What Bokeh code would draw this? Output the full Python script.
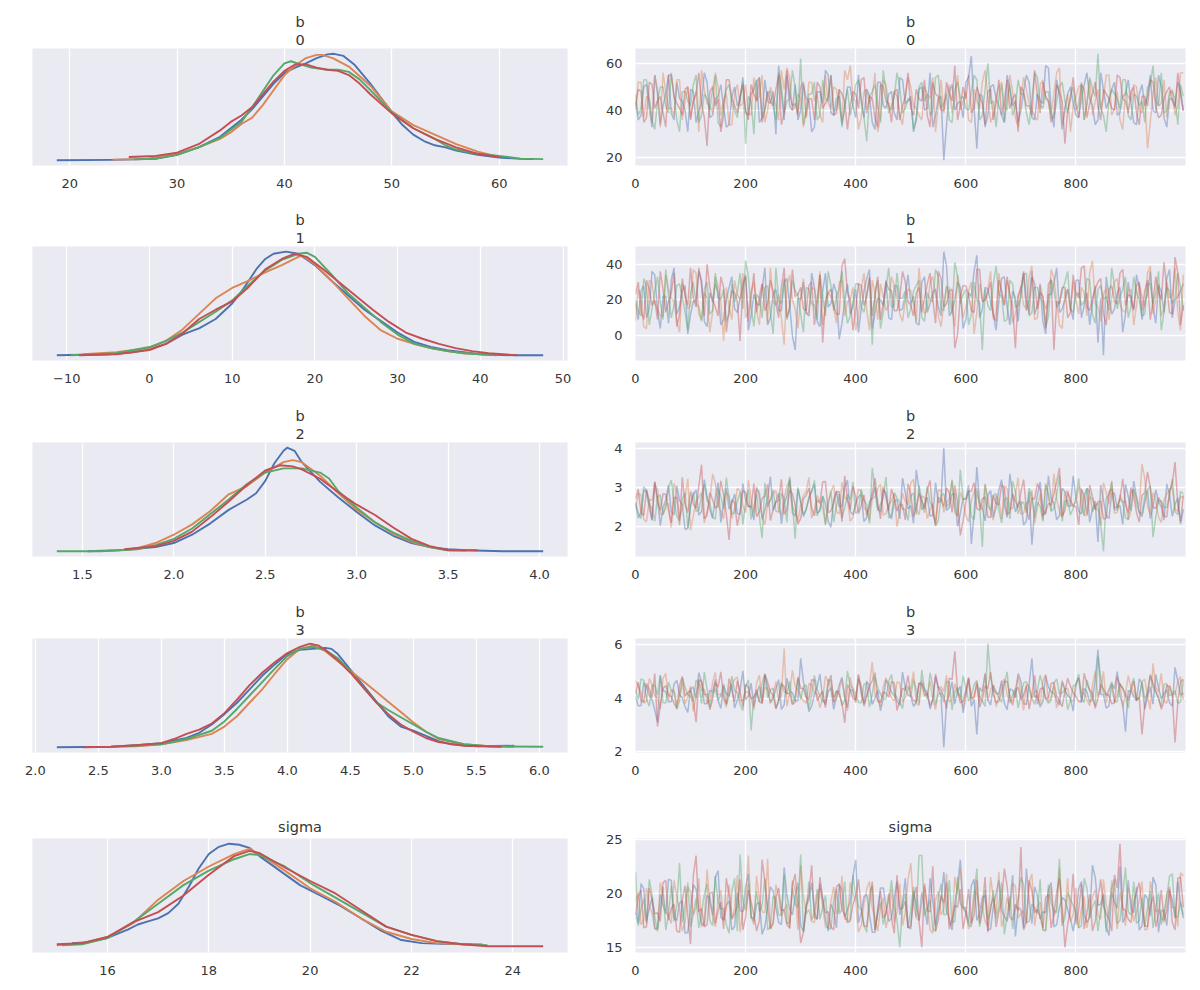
import numpy as np
from bokeh.plotting import figure
from bokeh.layouts import column, row
from bokeh.models import Range1d, FixedTicker, Title
from bokeh.embed import file_html
from bokeh.resources import INLINE

COLORS = ["#4C72B0", "#DD8452", "#55A868", "#C44E52"]
BG = "#EAEAF2"
TEXT = "#363636"
FONT = "DejaVu Sans"

# ---------------- KDE curves (x, relative density) per chain ----------------
B0_KDE_C0 = [(18.8,0.0),(24,0.003),(28,0.012),(30,0.05),(32,0.12),(34,0.22),(36,0.38),(37,0.48),(38,0.6),(39,0.72),(40,0.82),(41,0.87),(42,0.91),(43,0.96),(44,0.995),(44.6,1.0),(45.5,0.98),(46.5,0.9),(48,0.72),(50,0.45),(51,0.33),(52,0.24),(53,0.18),(54,0.14),(55,0.12),(56,0.09),(58,0.05),(60,0.025),(62,0.012),(63.2,0.01)]
B0_KDE_C1 = [(24,0.005),(27,0.01),(30,0.06),(32,0.12),(34,0.2),(35,0.26),(36,0.34),(37,0.4),(38,0.52),(39,0.66),(40,0.8),(41,0.89),(42,0.96),(43,0.99),(43.5,0.99),(44.5,0.96),(46,0.88),(48,0.7),(50,0.46),(52,0.33),(54,0.24),(56,0.15),(58,0.08),(60,0.03)]
B0_KDE_C2 = [(26,0.008),(28,0.015),(30,0.05),(32,0.12),(34,0.21),(36,0.36),(37,0.5),(38,0.65),(39,0.8),(40,0.91),(40.6,0.93),(41.5,0.9),(42.5,0.87),(44,0.85),(45,0.85),(46,0.83),(47,0.76),(48,0.66),(50,0.45),(52,0.3),(54,0.2),(55,0.14),(56,0.1),(58,0.06),(60,0.04),(62,0.015),(64.1,0.01)]
B0_KDE_C3 = [(25.5,0.03),(28,0.04),(30,0.07),(32,0.15),(34,0.28),(35,0.36),(36,0.42),(37,0.5),(38,0.62),(39,0.74),(40,0.84),(41,0.9),(42,0.9),(43,0.87),(44,0.85),(45,0.84),(46,0.8),(47,0.72),(48,0.62),(50,0.44),(52,0.3),(54,0.2),(56,0.12),(58,0.06),(60,0.03)]

B1_KDE_C0 = [(-11.2,0.0),(-5,0.01),(-2,0.03),(0,0.06),(2,0.11),(4,0.2),(5,0.23),(6,0.26),(8,0.35),(10,0.5),(11,0.6),(12,0.72),(13,0.84),(14,0.93),(15,0.98),(16.5,1.0),(18,0.98),(20,0.87),(22,0.72),(24,0.58),(26,0.44),(28,0.33),(30,0.22),(32,0.13),(34,0.08),(36,0.05),(38,0.03),(40,0.01),(44,0.0),(47.6,0.0)]
B1_KDE_C1 = [(-8,0.01),(-4,0.03),(0,0.07),(2,0.14),(4,0.25),(6,0.4),(8,0.55),(10,0.65),(12,0.72),(14,0.8),(16,0.87),(18,0.95),(18.5,0.96),(20,0.88),(22,0.72),(24,0.55),(26,0.38),(28,0.24),(30,0.16),(32,0.11),(34,0.07),(36,0.04),(38,0.02),(40,0.01),(42,0.005)]
B1_KDE_C2 = [(-9.5,0.0),(-4,0.02),(0,0.08),(2,0.14),(4,0.22),(6,0.32),(8,0.42),(10,0.53),(12,0.68),(14,0.82),(16,0.92),(18,0.98),(19,0.99),(20,0.95),(22,0.78),(24,0.6),(26,0.46),(28,0.32),(30,0.2),(32,0.11),(34,0.07),(36,0.04),(38,0.02),(40,0.01),(42,0.0)]
B1_KDE_C3 = [(-8.5,0.0),(-4,0.01),(0,0.05),(2,0.11),(4,0.21),(6,0.35),(8,0.44),(10,0.52),(12,0.66),(14,0.83),(16,0.93),(17.5,0.98),(19,0.95),(21,0.83),(23,0.7),(25,0.57),(27,0.44),(29,0.32),(31,0.22),(33,0.16),(35,0.11),(37,0.07),(39,0.04),(41,0.02),(44.5,0.0)]

B2_KDE_C0 = [(1.53,0.0),(1.7,0.01),(1.9,0.04),(2.0,0.08),(2.1,0.16),(2.2,0.27),(2.3,0.4),(2.4,0.5),(2.45,0.56),(2.5,0.68),(2.55,0.85),(2.6,0.97),(2.62,1.0),(2.66,0.97),(2.7,0.86),(2.8,0.67),(2.9,0.52),(3.0,0.38),(3.1,0.25),(3.2,0.15),(3.3,0.08),(3.4,0.04),(3.5,0.02),(3.6,0.01),(3.8,0.0),(4.02,0.0)]
B2_KDE_C1 = [(1.72,0.01),(1.8,0.03),(1.9,0.08),(2.0,0.16),(2.1,0.26),(2.2,0.39),(2.3,0.55),(2.4,0.63),(2.5,0.76),(2.6,0.86),(2.65,0.88),(2.7,0.86),(2.8,0.73),(2.9,0.56),(3.0,0.4),(3.1,0.28),(3.2,0.17),(3.3,0.09),(3.4,0.04),(3.5,0.01),(3.6,0.005)]
B2_KDE_C2 = [(1.36,0.0),(1.6,0.0),(1.8,0.02),(1.9,0.06),(2.0,0.12),(2.1,0.22),(2.2,0.36),(2.3,0.5),(2.4,0.65),(2.5,0.76),(2.6,0.8),(2.7,0.8),(2.8,0.76),(2.85,0.7),(2.9,0.58),(3.0,0.42),(3.1,0.28),(3.2,0.18),(3.3,0.1),(3.4,0.04),(3.5,0.01)]
B2_KDE_C3 = [(1.73,0.02),(1.9,0.05),(2.0,0.1),(2.1,0.19),(2.2,0.33),(2.3,0.48),(2.4,0.64),(2.5,0.78),(2.58,0.83),(2.65,0.82),(2.7,0.79),(2.8,0.7),(2.9,0.57),(3.0,0.45),(3.1,0.35),(3.2,0.23),(3.3,0.12),(3.4,0.05),(3.5,0.01),(3.66,0.01)]

B3_KDE_C0 = [(2.17,0.0),(2.6,0.005),(2.8,0.02),(3.0,0.04),(3.2,0.09),(3.3,0.14),(3.4,0.22),(3.5,0.32),(3.6,0.43),(3.7,0.56),(3.8,0.69),(3.9,0.8),(4.0,0.9),(4.1,0.94),(4.2,0.95),(4.3,0.96),(4.35,0.95),(4.4,0.9),(4.5,0.75),(4.6,0.6),(4.7,0.45),(4.8,0.3),(4.9,0.2),(5.0,0.16),(5.1,0.11),(5.2,0.06),(5.3,0.03),(5.5,0.01),(5.8,0.015)]
B3_KDE_C1 = [(2.6,0.005),(2.8,0.01),(3.0,0.03),(3.2,0.07),(3.4,0.13),(3.5,0.2),(3.6,0.3),(3.7,0.43),(3.8,0.56),(3.9,0.71),(4.0,0.85),(4.1,0.95),(4.2,0.98),(4.3,0.93),(4.4,0.83),(4.5,0.74),(4.6,0.64),(4.7,0.54),(4.8,0.44),(4.9,0.34),(5.0,0.24),(5.1,0.15),(5.2,0.08),(5.4,0.03),(5.6,0.01),(5.8,0.005)]
B3_KDE_C2 = [(2.7,0.01),(3.0,0.03),(3.2,0.08),(3.4,0.16),(3.5,0.25),(3.6,0.37),(3.7,0.5),(3.8,0.63),(3.9,0.76),(4.0,0.88),(4.1,0.95),(4.2,0.97),(4.3,0.94),(4.4,0.86),(4.5,0.73),(4.6,0.58),(4.7,0.44),(4.8,0.36),(4.9,0.29),(5.0,0.22),(5.1,0.15),(5.2,0.09),(5.4,0.03),(5.6,0.01),(6.03,0.005)]
B3_KDE_C3 = [(2.38,0.0),(2.6,0.005),(2.8,0.02),(3.0,0.04),(3.1,0.08),(3.2,0.13),(3.3,0.17),(3.4,0.23),(3.5,0.33),(3.6,0.46),(3.7,0.6),(3.8,0.72),(3.9,0.82),(4.0,0.91),(4.1,0.97),(4.18,1.0),(4.25,0.98),(4.3,0.94),(4.4,0.84),(4.5,0.72),(4.6,0.58),(4.7,0.44),(4.8,0.32),(4.9,0.22),(5.0,0.15),(5.1,0.09),(5.2,0.05),(5.4,0.015),(5.7,0.005)]

SIG_KDE_C0 = [(15.3,0.04),(15.6,0.05),(16,0.09),(16.4,0.17),(16.6,0.22),(16.8,0.25),(17.0,0.28),(17.2,0.33),(17.4,0.42),(17.6,0.58),(17.8,0.76),(18.0,0.9),(18.2,0.97),(18.4,1.0),(18.6,0.99),(18.8,0.96),(19.0,0.88),(19.4,0.74),(19.8,0.6),(20.2,0.5),(20.6,0.4),(21.0,0.28),(21.4,0.16),(21.8,0.07),(22.2,0.04),(22.6,0.035),(23.2,0.03)]
SIG_KDE_C1 = [(15.0,0.02),(15.5,0.04),(16,0.1),(16.5,0.23),(17.0,0.46),(17.5,0.64),(18.0,0.78),(18.5,0.9),(18.8,0.95),(19.0,0.9),(19.5,0.74),(20.0,0.57),(20.5,0.44),(21.0,0.28),(21.5,0.15),(22.0,0.08),(22.5,0.04),(23.0,0.03),(23.4,0.03)]
SIG_KDE_C2 = [(15.1,0.02),(15.5,0.03),(16,0.09),(16.5,0.24),(17,0.42),(17.5,0.6),(18,0.74),(18.5,0.85),(18.8,0.9),(19.0,0.89),(19.5,0.78),(20,0.62),(20.5,0.48),(21,0.34),(21.5,0.2),(22,0.12),(22.5,0.06),(23,0.03),(23.5,0.02)]
SIG_KDE_C3 = [(15.0,0.03),(15.5,0.04),(16,0.1),(16.5,0.24),(17,0.34),(17.5,0.5),(18,0.7),(18.5,0.88),(18.8,0.93),(19.0,0.91),(19.5,0.77),(20,0.64),(20.5,0.52),(21,0.36),(21.5,0.2),(22,0.12),(22.5,0.06),(23,0.03),(23.5,0.01),(24,0.01),(24.6,0.01)]

# ---------------- trace values per chain ----------------
# *_A: draws 0, 10, 20, ... 990      *_B: draws 5, 15, 25, ... 995
B0_TR_C0_A = [44,38,51,33,47,42,55,36,45,40, 49,35,43,52,38,46,41,34,50,44, 39,47,53,37,44,48,59,36,42,51, 40,45,31,48,43,55,38,46,41,50,
              37,44,49,35,52,42,47,39,54,43, 46,36,50,41,33,45,19,48,40,44, 52,63,24,46,38,51,42,35,49,44, 40,55,37,47,43,58,33,46,41,50,
              38,45,56,42,36,49,44,52,39,47, 43,34,51,46,40,55,37,45,42,48]
B0_TR_C0_B = [36,50,41,55,34,47,39,52,44,31, 48,40,56,37,45,51,33,46,42,54, 38,49,35,53,43,30,47,55,40,36, 51,44,33,48,57,39,45,34,50,42,
              55,37,46,32,52,41,48,36,53,44, 31,49,40,56,38,46,34,51,43,37, 54,41,47,33,50,45,38,55,42,35, 48,52,36,44,59,40,53,32,47,43,
              37,51,45,34,56,41,49,38,46,53, 35,47,42,55,39,50,33,45,52,40]
B0_TR_C1_A = [40,52,46,35,49,56,41,38,53,44, 37,48,57,43,39,50,45,34,47,42, 51,38,44,55,40,46,36,49,54,42, 45,39,52,47,35,43,50,41,57,59,
              44,37,49,46,31,53,42,48,38,45, 50,41,36,47,54,43,39,51,45,40, 48,35,44,52,46,38,50,42,55,37, 45,49,41,36,53,44,47,58,40,31,
              46,51,43,38,49,45,55,41,36,48, 44,50,39,24,47,42,53,46,38,56]
B0_TR_C1_B = [52,37,45,55,33,48,41,53,36,50, 44,31,49,42,56,38,47,34,51,43, 39,54,46,35,50,42,57,58,40,47, 33,52,44,38,55,41,49,36,53,45,
              32,48,43,56,37,51,40,46,34,54, 42,38,50,45,31,53,47,39,55,44, 36,49,41,57,35,46,52,40,48,33, 54,43,37,51,45,39,56,34,47,42,
              50,36,53,44,41,55,38,48,32,46, 51,40,45,35,54,43,37,49,42,56]
B0_TR_C2_A = [47,41,53,36,44,50,39,46,31,48, 42,55,38,45,49,35,43,51,40,46, 26,44,52,37,48,42,56,39,45,50, 62,41,47,36,53,44,40,49,43,38,
              51,45,27,48,42,57,39,46,50,41, 44,37,52,47,40,55,43,36,49,45, 41,48,53,38,60,44,46,35,51,42, 47,39,45,54,41,48,37,50,44,46,
              40,52,43,49,64,38,45,47,41,53, 36,46,44,50,59,42,39,48,45,51]
B0_TR_C2_B = [38,53,45,32,50,42,56,36,48,44, 51,35,47,40,55,33,49,43,37,52, 46,30,54,41,48,36,50,44,57,39, 34,47,52,38,45,55,40,33,49,43,
              53,37,46,51,35,48,42,56,39,45, 32,50,44,38,54,41,47,35,52,46, 40,55,36,49,43,33,51,45,38,53, 47,34,56,42,48,37,44,52,39,50,
              43,36,54,46,41,31,49,45,53,38, 47,42,35,51,44,56,40,48,34,46]
B0_TR_C3_A = [42,48,37,51,44,39,55,46,41,49, 36,47,43,25,50,45,38,53,42,46, 40,51,44,35,48,42,55,39,47,43, 50,37,45,52,41,46,38,49,44,42,
              47,53,39,45,33,50,43,48,36,46, 41,49,44,38,52,46,40,47,59,42, 45,39,50,43,48,36,53,44,41,47, 50,42,38,46,52,44,39,48,26,45,
              43,51,37,47,42,49,45,40,54,44, 48,39,46,42,52,37,45,50,41,47]
B0_TR_C3_B = [49,35,52,41,46,33,55,43,38,50, 44,56,37,48,42,31,53,45,39,51, 36,47,54,40,44,49,34,57,42,38, 52,45,36,50,43,55,39,47,32,48,
              41,54,46,37,51,44,35,49,42,56, 38,45,53,33,47,40,52,44,36,50, 55,41,46,34,49,43,38,53,45,31, 48,42,57,39,46,35,51,44,40,54,
              37,49,43,52,36,47,41,55,45,39, 50,34,46,53,42,38,48,44,56,40]

B1_TR_C0_A = [18,25,10,36,14,22,7,38,16,28, 12,20,31,5,19,24,9,27,15,21, 33,11,18,26,6,23,14,30,17,-8, 20,13,35,8,25,16,29,-2,19,12,
              26,15,32,4,21,17,10,28,14,23, 18,7,30,13,24,16,47,11,20,27, 9,22,45,15,26,12,19,33,6,21, 25,14,36,17,8,23,29,13,20,16,
              31,10,24,18,-4,-11,22,15,27,12, 19,34,9,23,16,28,13,37,20,25]
B1_TR_C0_B = [9,28,15,34,4,22,31,12,25,1, 19,36,8,24,29,6,20,33,13,27, 3,23,17,38,10,26,14,32,0,21, 30,11,27,5,35,18,24,7,29,16,
              2,25,37,13,20,31,9,28,15,34, 22,6,33,18,26,11,39,14,30,4, 24,36,10,27,19,3,32,16,25,8, 35,20,12,29,1,23,38,15,26,9,
              31,17,6,28,21,33,12,24,2,30, 14,27,19,36,7,25,32,10,22,29]
B1_TR_C1_A = [8,22,4,30,15,11,26,19,2,24, 17,35,9,21,13,28,-3,16,31,20, 10,25,14,29,7,19,23,-5,34,15, 21,12,27,18,6,24,16,30,11,20,
              3,26,14,31,9,22,17,28,12,19, 25,8,21,15,33,11,18,27,5,23, 16,30,13,20,26,9,35,17,22,12, 28,15,39,10,21,18,32,6,24,14,
              20,27,11,42,16,23,9,30,18,13, 26,17,22,35,12,29,15,21,38,3]
B1_TR_C1_B = [26,5,31,18,11,34,21,8,29,15, 37,12,24,2,33,19,27,9,23,35, 14,30,6,25,38,17,10,28,20,4, 32,13,26,36,16,22,7,31,19,27,
              11,35,3,24,29,14,33,21,8,26, 18,38,12,30,23,5,27,16,34,10, 25,1,29,20,36,13,24,31,7,22, 17,33,9,28,15,37,19,4,26,30,
              12,24,35,18,8,27,21,32,14,25, 6,29,16,39,20,11,30,23,13,34]
B1_TR_C2_A = [20,11,27,15,33,9,22,17,29,13, 24,18,8,30,14,21,26,12,19,35, 42,16,23,10,28,1,20,32,15,25, 12,27,18,9,22,36,14,26,19,11,
              29,16,23,-5,31,13,38,17,21,25, 15,28,10,24,19,33,14,22,41,18, 26,12,20,-8,17,29,23,8,31,16, 21,35,13,27,19,11,25,18,30,15,
              23,17,32,12,26,20,14,28,22,33, 16,24,11,29,18,36,13,25,21,27]
B1_TR_C2_B = [14,32,6,25,19,37,10,28,22,3, 30,16,26,12,35,20,8,29,24,15, 33,5,21,27,13,38,18,9,31,23, 2,26,17,34,11,28,22,36,7,19,
              29,13,32,24,4,27,16,35,21,10, 25,31,8,20,37,15,28,12,33,23, 6,30,18,26,14,39,22,9,29,17, 34,11,27,21,5,32,16,25,36,13,
              24,19,31,7,28,22,38,15,26,10, 33,20,12,29,24,3,27,18,35,14]
B1_TR_C3_A = [23,14,31,17,9,26,19,35,12,22, 38,16,28,40,20,11,27,15,24,-3, 34,21,13,29,18,25,10,38,16,22, 27,14,30,19,-4,24,17,12,43,20,
              15,28,22,11,33,18,26,14,21,30, 17,24,13,29,20,36,16,25,-7,22, 28,14,37,19,24,11,31,17,23,-7, 26,20,33,15,22,29,-8,18,27,13,
              24,38,16,21,30,12,26,19,35,17, 22,28,14,31,19,25,41,13,44,6]
B1_TR_C3_B = [30,9,26,20,36,13,24,5,32,17, 21,38,11,27,16,33,2,25,19,29, 8,35,22,14,31,18,27,10,37,23, 15,28,6,34,20,26,12,39,24,3,
              29,17,33,22,9,30,25,14,36,19, 11,27,21,35,7,32,18,26,1,28, 23,13,37,20,30,8,25,33,16,22, 36,12,29,24,4,31,19,27,10,34,
              21,39,14,26,32,6,28,18,37,23, 15,30,25,9,33,20,27,12,35,17]

B2_TR_C0_A = [2.62,2.35,2.88,2.15,2.71,2.48,3.05,2.29,2.66,1.92, 2.55,2.94,2.38,2.76,2.21,3.12,2.59,2.44,2.83,2.31,
              2.68,2.52,2.97,2.18,2.74,2.41,2.86,2.57,3.22,2.26, 2.63,2.45,2.91,2.34,2.78,2.12,2.69,2.5,3.01,2.39,
              2.58,2.82,2.23,2.72,2.47,2.95,2.36,2.64,2.19,2.87, 2.53,3.45,2.42,2.75,2.28,2.61,4.02,2.49,2.84,2.33,
              2.7,1.55,3.52,2.46,2.79,2.24,2.93,2.56,3.35,2.37, 2.65,2.14,1.53,2.8,2.43,3.3,2.6,2.27,2.89,2.51,
              2.74,2.32,2.98,2.44,1.6,2.67,2.2,2.85,2.54,3.08, 2.4,2.76,2.25,2.92,2.5,2.63,2.16,2.81,2.57,2.06]
B2_TR_C0_B = [2.21,2.93,2.47,3.15,2.02,2.68,2.38,3.04,2.55,1.95, 2.81,2.29,3.2,2.44,2.74,2.1,2.99,2.6,2.33,3.1,
              2.5,2.16,2.87,2.42,3.28,2.64,2.06,2.78,2.35,2.96, 2.25,2.71,3.08,2.4,2.58,1.98,2.9,2.53,3.18,2.3,
              2.76,2.12,2.63,3.01,2.37,2.85,2.19,2.69,3.24,2.45, 2.08,2.95,2.56,2.27,3.12,2.66,2.41,2.83,2.0,2.72,
              3.05,2.34,2.61,2.14,2.92,2.49,3.2,2.23,2.79,2.57, 2.03,2.88,2.43,3.14,2.31,2.7,2.17,2.98,2.52,3.3,
              2.39,2.8,2.11,2.65,3.06,2.28,2.86,2.46,2.05,2.77, 3.16,2.36,2.62,2.2,2.94,2.51,3.09,2.26,2.73,2.44]
B2_TR_C1_A = [2.45,2.81,2.12,2.67,2.95,2.3,2.58,3.1,2.22,2.74, 1.9,2.63,2.86,2.4,3.35,2.52,2.19,2.77,2.48,2.91,
              2.35,2.69,3.02,2.26,2.6,2.84,2.43,2.71,3.18,2.37, 2.55,2.9,2.21,2.79,2.47,2.66,3.06,2.32,2.73,2.13,
              2.61,2.88,2.41,2.7,2.97,2.29,2.56,2.83,2.38,2.64, 3.11,2.44,2.78,2.2,2.59,2.93,2.36,2.72,2.5,2.87,
              2.27,2.65,2.99,2.42,2.75,2.16,2.68,3.04,2.46,2.8, 2.31,2.6,2.92,2.49,2.17,2.76,3.35,2.39,2.85,2.53,
              2.62,2.94,2.28,2.7,2.45,3.12,2.57,2.34,2.81,2.66, 2.4,2.73,3.6,2.51,2.86,2.24,2.69,2.95,2.43,2.78]
B2_TR_C1_B = [2.84,2.18,2.69,3.07,2.32,2.57,1.97,2.9,2.45,3.22, 2.27,2.75,2.09,2.63,3.11,2.4,2.86,2.21,2.98,2.54,
              3.19,2.35,2.72,2.04,2.66,2.92,2.29,3.03,2.5,2.13, 2.8,3.26,2.43,2.6,2.07,2.88,2.37,3.13,2.71,2.24,
              2.96,2.48,2.15,2.77,3.08,2.33,2.65,1.99,2.85,2.56, 3.21,2.3,2.74,2.42,2.01,2.93,2.59,3.16,2.26,2.68,
              2.12,2.89,2.52,3.06,2.38,2.79,2.19,2.97,2.46,3.25, 2.34,2.64,2.08,2.82,3.1,2.41,2.7,2.23,2.91,2.55,
              3.02,2.28,2.76,2.44,2.03,2.87,3.17,2.36,2.62,2.16, 2.95,2.49,3.23,2.31,2.67,2.1,2.83,3.0,2.39,2.73]
B2_TR_C2_A = [2.58,2.2,2.92,2.47,2.75,2.31,3.01,2.63,2.14,2.86, 2.52,2.39,2.79,2.66,2.23,2.97,2.45,2.71,2.34,2.88,
              2.6,2.18,2.82,1.7,2.5,2.94,2.37,2.73,3.28,1.68, 2.64,2.42,2.89,2.27,2.77,2.55,2.11,2.83,2.48,2.69,
              2.33,2.96,2.56,3.5,2.4,2.72,2.21,2.87,2.61,2.44, 2.78,2.3,2.67,3.03,2.49,2.15,2.84,2.59,2.36,3.45,
              2.7,2.26,2.91,1.47,2.53,2.8,2.41,2.68,2.19,2.9, 2.57,2.35,2.76,2.62,2.12,2.85,2.46,3.3,2.65,2.29,
              2.74,2.51,2.98,2.38,2.6,1.36,2.81,2.43,2.71,2.22, 2.87,2.54,2.32,2.93,1.72,2.66,2.48,2.79,2.37,2.9]
B2_TR_C2_B = [2.36,3.02,2.55,2.13,2.81,2.47,3.19,2.27,2.7,1.96, 2.88,2.42,3.08,2.6,2.19,2.77,3.25,2.33,2.64,2.05,
              2.94,2.5,2.24,3.12,2.68,2.39,2.85,2.11,2.58,3.0, 2.3,2.75,3.18,2.45,2.03,2.9,2.53,2.21,2.82,3.14,
              2.4,2.66,2.08,2.97,2.57,3.27,2.29,2.73,2.44,2.15, 2.86,3.05,2.35,2.62,2.01,2.79,2.51,3.2,2.26,2.69,
              2.92,2.17,2.56,3.1,2.41,2.84,2.09,2.74,3.16,2.32, 2.63,2.98,2.22,2.52,3.07,2.38,2.8,2.12,2.67,2.46,
              3.23,2.28,2.87,2.54,2.06,2.72,3.13,2.43,2.6,2.18, 2.95,2.37,2.78,3.04,2.25,2.65,2.49,3.21,2.31,2.83]
B2_TR_C3_A = [2.7,2.36,2.95,2.18,2.63,2.84,2.41,2.74,2.03,2.57, 2.9,2.46,3.58,2.28,2.69,2.52,2.81,1.65,2.6,2.38,
              2.87,2.49,2.25,2.73,3.08,2.42,2.66,2.31,2.93,2.55, 2.2,2.79,2.47,2.68,3.14,2.35,2.6,2.89,3.3,2.43,
              2.76,2.53,2.29,2.85,2.61,3.02,2.4,2.72,2.56,2.17, 2.83,2.48,2.67,2.94,2.33,2.74,2.5,2.86,3.05,1.77,
              2.62,2.91,2.45,2.7,2.24,2.8,2.55,2.97,2.37,2.65, 2.88,2.44,2.73,3.1,2.27,2.59,2.84,3.5,2.41,2.68,
              2.52,2.95,2.3,2.77,2.64,2.19,2.87,2.47,2.71,2.58, 3.0,2.36,2.8,3.4,2.49,2.74,2.26,2.9,3.65,2.12]
B2_TR_C3_B = [2.95,2.28,2.66,3.13,2.41,2.82,2.09,2.74,3.26,2.35, 2.58,3.04,2.2,2.87,2.47,3.17,2.31,2.69,2.02,2.92,
              2.53,3.1,2.38,2.77,2.15,2.63,3.21,2.44,2.84,2.06, 2.71,2.98,2.27,2.6,3.15,2.4,2.89,2.12,2.67,3.03,
              2.33,2.8,2.5,3.24,2.19,2.73,2.96,2.39,2.56,3.09, 2.25,2.85,2.45,3.18,2.07,2.68,2.99,2.36,2.62,2.14,
              2.9,3.12,2.42,2.76,2.23,2.59,3.07,2.3,2.83,2.48, 3.2,2.17,2.7,2.94,2.37,2.55,3.14,2.26,2.88,2.51,
              2.04,2.78,3.06,2.43,2.64,2.21,2.97,2.52,3.22,2.34, 2.75,2.11,2.86,3.0,2.46,2.61,2.24,3.11,2.57,2.8]

B3_TR_C0_A = [4.05,3.72,4.41,3.95,3.1,4.28,3.86,4.52,4.12,3.68, 4.35,3.98,4.6,3.79,4.22,3.91,4.47,4.08,3.63,4.3,
              3.94,4.56,4.15,3.82,4.38,4.0,4.69,3.75,4.26,3.89, 5.48,4.11,3.7,4.43,3.96,4.25,3.58,4.49,4.02,4.33,
              3.87,4.18,4.64,3.77,4.29,3.99,4.53,4.1,3.73,4.4, 4.06,3.84,4.57,4.21,3.92,4.37,2.17,4.14,3.8,4.45,
              4.03,3.69,2.65,4.24,3.93,4.5,4.16,3.81,4.34,4.01, 4.62,3.76,5.48,4.09,3.88,4.42,4.19,3.74,4.31,4.0,
              4.48,3.85,4.23,3.97,5.8,4.13,3.71,4.36,4.07,2.75, 4.27,3.9,4.54,4.04,3.78,4.39,4.17,3.83,5.15,4.11]
B3_TR_C0_B = [3.72,4.58,4.11,3.55,4.83,4.24,3.88,4.66,4.02,3.47, 4.41,4.95,3.79,4.3,4.7,3.62,4.17,4.52,3.94,5.02,
              4.08,3.68,4.47,4.87,3.84,4.35,3.58,4.74,4.2,3.91, 4.63,3.5,4.14,4.9,3.76,4.38,4.05,4.78,3.65,4.27,
              4.86,3.82,4.44,4.0,3.53,4.69,4.21,3.9,4.97,4.12, 3.7,4.56,4.33,3.6,4.8,4.07,3.86,4.61,4.25,3.45,
              4.74,3.96,4.39,4.89,3.74,4.18,4.65,3.57,4.3,4.92, 3.81,4.5,4.04,3.67,4.84,4.23,3.92,4.6,4.1,3.52,
              4.77,4.36,3.85,4.68,4.15,3.63,4.53,4.99,3.78,4.28, 4.06,4.72,3.59,4.43,4.88,3.97,4.32,3.7,4.64,4.19]
B3_TR_C1_A = [4.65,4.2,3.88,4.51,4.02,4.74,3.95,4.33,4.11,3.79, 4.46,4.06,4.27,3.84,4.59,4.14,3.97,4.38,4.7,3.9,
              4.24,4.01,4.56,3.86,4.35,4.13,3.92,5.85,4.19,4.44, 4.05,3.81,4.49,4.16,3.99,4.62,3.87,4.29,4.08,4.78,
              3.83,4.31,4.1,5.35,3.94,4.42,4.22,3.89,4.57,4.03, 4.36,3.8,4.68,4.12,3.96,4.4,4.25,3.85,4.53,4.07,
              4.3,3.93,4.61,4.18,3.91,4.45,4.09,4.72,3.82,4.34, 4.15,4.5,3.98,4.26,4.66,3.86,4.43,4.04,4.32,3.9,
              4.58,4.21,3.95,4.47,4.1,5.0,4.28,3.84,4.55,4.17, 4.39,3.97,4.63,4.06,5.3,4.23,3.88,4.49,4.14,4.8]
B3_TR_C1_B = [4.45,3.82,4.73,4.1,3.6,4.92,4.28,3.75,4.58,4.03, 3.51,4.67,4.34,3.88,4.96,4.15,3.66,4.5,4.79,3.93,
              4.22,3.57,4.86,4.4,3.8,4.62,4.08,3.7,5.04,4.31, 3.9,4.55,4.18,3.64,4.82,4.36,3.97,4.69,3.53,4.26,
              4.9,3.78,4.48,4.12,3.68,4.76,4.02,4.6,3.86,4.38, 4.99,3.73,4.25,4.64,3.58,4.43,4.85,3.95,4.2,3.62,
              4.71,4.09,3.84,4.94,4.33,3.69,4.57,4.14,3.92,4.81, 3.55,4.47,4.27,3.76,4.88,4.05,3.63,4.66,4.37,3.89,
              4.75,4.19,3.71,5.0,4.3,3.83,4.52,4.11,3.65,4.84, 4.24,3.98,4.7,3.59,4.41,4.93,3.81,4.16,4.63,3.94]
B3_TR_C2_A = [4.3,4.72,3.97,4.48,4.11,3.84,4.6,4.22,3.9,4.41, 4.05,4.67,3.8,4.34,4.16,3.93,4.53,4.09,4.28,3.76,
              4.44,2.8,4.19,4.58,4.01,4.37,3.88,4.25,4.64,4.07, 3.95,4.5,4.14,4.33,3.86,4.7,4.03,4.26,3.92,4.46,
              4.18,3.83,4.55,4.12,4.38,3.98,4.63,4.2,3.89,4.42, 4.08,4.31,5.05,3.96,4.47,4.15,3.85,4.59,4.23,3.94,
              4.4,4.1,4.66,3.9,6.03,4.27,4.02,4.52,3.87,4.36, 4.13,4.61,3.99,4.29,4.45,3.81,4.56,4.17,4.35,3.91,
              4.49,4.06,4.68,3.95,5.55,4.21,4.32,3.88,4.54,4.04, 4.39,3.92,4.6,4.19,4.43,3.97,4.51,4.1,4.28,3.86]
B3_TR_C2_B = [3.95,4.66,3.7,4.48,4.87,3.82,4.29,3.58,4.76,4.13, 3.89,4.55,4.97,3.66,4.35,4.1,3.76,4.82,4.22,3.54,
              4.68,4.04,3.86,4.91,4.31,3.63,4.59,4.17,3.79,4.73, 4.42,3.6,4.85,4.08,3.92,4.64,4.26,3.72,5.01,4.37,
              3.84,4.52,3.67,4.79,4.15,3.97,4.88,4.02,3.61,4.45, 4.7,3.8,4.33,4.94,3.74,4.2,4.62,3.56,4.4,4.83,
              3.9,4.5,4.07,3.69,4.77,4.25,3.85,4.98,4.12,3.64, 4.57,4.34,3.77,4.86,4.01,3.93,4.72,4.19,3.57,4.46,
              4.9,3.83,4.3,3.71,4.8,4.09,4.61,3.87,4.39,3.62, 4.75,4.05,3.96,4.84,4.23,3.68,4.54,4.14,3.81,4.67]
B3_TR_C3_A = [4.18,3.9,4.55,4.03,2.95,4.36,4.12,3.81,4.47,4.08, 4.29,3.11,4.62,4.15,3.94,4.41,4.05,4.73,3.87,4.24,
              4.52,3.98,4.32,3.8,4.6,4.1,3.93,4.44,4.2,3.86, 4.37,4.02,4.69,3.91,4.26,4.5,3.84,4.14,3.08,4.33,
              3.96,4.45,4.09,4.65,3.89,4.23,4.04,4.57,3.92,4.3, 4.11,3.85,4.48,4.17,3.97,4.4,4.06,4.75,5.75,3.83,
              4.27,4.01,4.54,3.94,4.35,4.12,3.88,4.61,4.08,4.22, 3.95,4.46,4.14,3.78,4.39,4.03,4.58,3.9,4.25,4.44,
              4.07,3.86,4.53,4.19,3.99,4.34,4.1,3.82,4.49,4.16, 4.3,3.93,2.65,4.21,4.56,4.04,3.89,4.42,2.35,4.62]
B3_TR_C3_B = [4.6,3.86,4.32,4.92,3.73,4.47,4.06,3.63,4.81,4.2, 3.91,4.7,4.13,3.57,4.58,4.98,3.8,4.28,4.65,3.69,
              4.4,4.03,3.87,4.89,4.24,3.6,4.53,4.16,3.76,4.79, 4.35,3.95,4.67,4.1,3.65,4.86,4.27,3.82,4.5,3.98,
              4.73,3.7,4.44,4.95,3.85,4.18,4.62,3.54,4.37,4.84, 3.93,4.56,4.08,3.72,4.9,4.3,3.61,4.69,4.22,3.89,
              4.77,4.01,3.66,4.46,4.97,3.83,4.25,4.63,3.74,4.41, 4.12,3.59,4.85,4.34,3.96,4.55,4.07,3.68,4.74,4.2,
              3.88,4.93,4.29,3.62,4.51,4.15,3.79,4.8,4.36,3.92, 4.64,4.02,3.75,4.88,4.26,3.58,4.48,4.11,3.84,4.71]

SIG_TR_C0_A = [18.2,20.9,17.4,19.6,16.8,18.9,21.3,17.7,19.1,16.3, 18.6,20.4,17.2,19.8,18.0,22.1,17.5,19.3,16.9,18.4,
               20.6,17.9,19.0,16.2,18.7,20.2,17.3,22.4,18.5,19.7, 17.0,18.8,21.0,17.6,19.4,16.5,18.3,20.8,17.8,19.2,
               23.1,18.1,19.9,16.4,18.6,20.5,17.4,19.5,18.0,21.4, 16.7,18.9,20.1,17.1,19.3,18.4,22.0,17.7,19.0,23.1,
               18.2,20.7,17.5,19.6,16.6,18.8,21.2,17.9,19.1,16.0, 18.5,22.3,17.2,19.8,18.3,20.3,16.9,18.7,19.4,17.6,
               18.1,21.1,17.3,22.6,18.9,20.0,16.1,19.2,22.5,17.8, 18.6,20.6,17.0,19.5,21.5,16.4,18.4,20.2,17.7,19.1]
SIG_TR_C0_B = [17.2,20.4,18.6,16.7,19.9,18.1,21.2,17.5,19.3,16.4, 20.8,18.4,17.0,19.6,21.5,17.8,18.9,16.6,20.1,18.3,
               21.8,17.4,19.2,16.9,20.6,18.7,17.1,19.8,18.0,21.0, 16.5,19.4,18.2,20.9,17.6,19.0,16.8,20.3,18.5,21.6,
               17.3,19.7,18.0,16.4,20.5,18.8,17.7,21.1,19.1,16.9, 20.2,17.5,18.6,21.4,17.0,19.5,18.3,16.6,20.7,18.9,
               17.2,21.3,18.1,19.8,16.7,20.0,18.4,17.4,21.7,18.7, 16.8,19.3,20.6,17.6,18.2,21.0,17.1,19.6,18.5,16.5,
               20.4,18.0,17.8,21.5,19.0,16.9,20.1,18.6,17.3,21.2, 18.2,16.6,19.9,17.9,20.8,18.4,17.0,19.4,21.1,17.7]
SIG_TR_C1_A = [19.3,17.1,20.5,18.2,16.6,19.8,17.9,21.2,18.4,17.3, 20.1,18.7,16.9,22.2,18.0,19.4,17.5,20.8,18.6,16.4,
               19.1,17.8,21.6,18.3,23.2,17.2,19.7,18.5,16.7,20.3, 22.6,18.1,17.4,19.9,18.8,16.8,20.6,18.4,17.6,21.0,
               19.2,17.0,20.4,18.6,16.5,19.6,18.0,17.3,20.9,18.2, 22.8,17.7,19.0,18.9,16.3,20.2,18.5,17.1,21.5,22.3,
               18.3,17.5,20.0,18.7,16.9,19.5,22.0,17.8,18.4,20.7, 18.1,17.2,21.8,18.8,16.6,19.3,17.9,22.4,18.2,17.4,
               20.5,18.6,16.8,19.7,18.0,21.3,17.6,18.9,20.1,17.0, 19.4,18.3,21.1,16.7,19.9,18.5,17.3,20.4,18.7,21.9]
SIG_TR_C1_B = [20.1,17.5,18.9,16.8,21.0,18.3,17.2,19.7,16.5,20.6, 18.0,21.4,17.4,19.2,16.9,20.3,18.6,17.7,21.7,18.4,
               23.5,17.1,19.5,18.2,16.7,20.8,17.9,19.0,21.2,16.6, 19.8,18.5,17.3,20.5,16.9,19.3,18.1,21.6,17.6,20.0,
               16.4,19.1,21.1,17.8,18.7,16.8,20.4,18.3,17.0,21.3, 18.9,17.5,20.7,16.6,19.4,18.0,21.8,17.2,19.9,18.5,
               16.7,20.2,18.8,17.4,21.5,18.1,16.9,19.6,20.9,17.7, 18.4,21.0,17.0,19.2,16.5,20.6,18.6,17.3,21.4,18.0,
               16.8,19.7,18.2,20.3,17.6,19.0,21.2,16.7,18.8,20.5, 17.4,19.4,16.6,21.1,18.3,17.8,20.0,18.7,16.9,21.6]
SIG_TR_C2_A = [22.0,18.5,17.2,19.9,16.5,20.6,18.1,17.4,22.8,18.8, 16.9,19.5,18.2,20.9,17.0,19.2,18.6,16.3,21.4,23.6,
               18.4,17.7,20.2,18.9,16.6,19.7,18.0,21.7,17.3,19.0, 23.6,18.3,17.5,20.4,18.7,16.8,19.4,18.1,21.1,17.6,
               19.8,18.5,16.4,20.7,18.2,17.1,19.3,18.8,15.0,20.0, 18.4,17.8,23.5,18.6,16.7,19.6,18.0,21.2,17.4,19.1,
               18.7,16.9,22.3,18.3,17.6,20.3,18.9,16.2,19.7,18.5, 21.5,17.3,19.0,18.1,16.6,20.8,18.4,23.2,17.7,19.4,
               18.2,17.0,20.5,18.8,16.5,19.8,18.6,21.3,17.5,22.4, 18.0,17.2,19.6,18.7,16.8,20.1,18.3,21.6,17.9,19.2]
SIG_TR_C2_B = [17.0,19.5,21.3,17.8,18.4,16.6,20.7,18.9,17.3,21.0, 18.1,16.8,19.9,17.5,21.6,18.6,17.1,20.2,16.5,19.3,
               20.9,17.7,18.3,21.4,16.9,19.6,18.0,17.2,20.5,18.7, 16.4,21.1,18.2,17.6,19.8,16.7,20.4,18.5,17.4,21.7,
               18.8,17.0,20.0,16.6,19.2,18.3,21.2,17.5,19.0,16.8, 20.6,23.5,17.9,19.4,16.5,20.9,18.1,17.3,21.5,18.6,
               17.1,19.7,16.9,20.3,18.4,17.6,21.0,18.0,16.7,19.5, 20.8,17.4,18.7,21.3,16.6,19.1,18.2,17.0,20.1,18.9,
               16.8,21.4,17.7,19.3,18.5,16.4,20.5,17.2,19.8,18.3, 21.1,17.5,16.9,20.2,18.6,17.1,19.6,21.8,17.8,18.0]
SIG_TR_C3_A = [18.0,20.3,16.9,19.4,18.2,21.0,17.5,19.0,16.4,20.7, 15.3,23.5,18.6,17.1,20.1,18.4,16.7,19.8,18.1,21.3,
               17.8,19.2,16.5,23.1,18.8,17.3,20.5,18.5,16.8,21.8, 15.4,18.9,22.6,17.6,19.5,18.3,16.6,20.9,18.0,17.4,
               19.7,18.7,16.9,21.1,18.2,17.7,20.0,16.3,18.6,19.3, 17.0,20.6,15.0,18.4,22.5,17.5,19.1,16.7,18.9,20.4,
               18.1,17.2,21.2,18.7,16.4,19.6,18.3,22.3,17.8,19.0, 24.3,17.4,20.2,18.5,16.8,19.9,18.0,21.4,15.0,18.6,
               17.1,20.8,18.2,16.5,19.5,18.8,17.6,21.7,24.6,18.4, 17.3,20.1,18.6,16.9,19.7,18.1,17.5,20.6,16.6,21.5]
SIG_TR_C3_B = [19.7,16.8,20.5,18.1,17.4,21.2,18.6,16.5,19.4,17.9, 21.6,18.3,16.9,20.0,17.2,19.2,21.4,17.6,18.8,16.6,
               20.3,18.0,17.5,21.1,16.7,19.6,18.4,17.1,20.8,18.7, 16.4,19.9,17.8,21.5,18.2,16.9,20.6,18.5,17.3,19.0,
               21.3,17.0,18.9,16.6,20.2,18.1,17.7,21.7,18.6,16.8, 19.5,17.4,20.9,18.3,16.5,19.8,21.0,17.6,18.7,16.7,
               20.4,18.0,17.2,21.5,18.8,16.9,19.3,20.7,17.5,18.4, 16.6,21.2,18.2,17.8,19.6,16.8,20.1,18.9,17.1,21.8,
               18.5,16.7,19.9,17.4,21.3,18.1,16.5,20.5,18.6,17.6, 19.2,21.0,17.0,18.8,16.9,20.3,18.4,17.3,21.4,18.7]

N_DRAWS = 1000
DRAW_STEP = 5

# ---------------- tick positions / labels ----------------
B0_KDE_TICKS = [20, 30, 40, 50, 60]
B0_KDE_LABELS = ["20", "30", "40", "50", "60"]
B1_KDE_TICKS = [-10, 0, 10, 20, 30, 40, 50]
B1_KDE_LABELS = ["\u221210", "0", "10", "20", "30", "40", "50"]
B2_KDE_TICKS = [1.5, 2.0, 2.5, 3.0, 3.5, 4.0]
B2_KDE_LABELS = ["1.5", "2.0", "2.5", "3.0", "3.5", "4.0"]
B3_KDE_TICKS = [2.0, 2.5, 3.0, 3.5, 4.0, 4.5, 5.0, 5.5, 6.0]
B3_KDE_LABELS = ["2.0", "2.5", "3.0", "3.5", "4.0", "4.5", "5.0", "5.5", "6.0"]
SIG_KDE_TICKS = [16, 18, 20, 22, 24]
SIG_KDE_LABELS = ["16", "18", "20", "22", "24"]

TRACE_X_TICKS = [0, 200, 400, 600, 800]
TRACE_X_LABELS = ["0", "200", "400", "600", "800"]
B0_TR_TICKS = [20, 40, 60]
B1_TR_TICKS = [0, 20, 40]
B2_TR_TICKS = [2, 3, 4]
B3_TR_TICKS = [2, 4, 6]
SIG_TR_TICKS = [15, 20, 25]

TITLES = [["b", "0"], ["b", "1"], ["b", "2"], ["b", "3"], ["sigma"]]


def merge(a, b):
    out = []
    for u, v in zip(a, b):
        out.extend([u, v])
    return out


def style(p, xticks, xlabels, yticks=None, ylabels=None):
    p.background_fill_color = BG
    p.border_fill_color = "white"
    p.outline_line_color = None
    for ax in p.xaxis + p.yaxis:
        ax.axis_line_color = None
        ax.major_tick_line_color = None
        ax.minor_tick_line_color = None
        ax.major_tick_out = 0
        ax.major_tick_in = 0
        ax.major_label_text_font = FONT
        ax.major_label_text_font_size = "13px"
        ax.major_label_text_color = TEXT
    p.xaxis.major_label_standoff = 13
    p.xaxis.ticker = FixedTicker(ticks=xticks)
    p.xaxis.major_label_overrides = {t: l for t, l in zip(xticks, xlabels)}
    p.xgrid.ticker = FixedTicker(ticks=xticks)
    p.xgrid.grid_line_color = "white"
    p.xgrid.grid_line_width = 1.3
    if yticks is None:
        p.yaxis.visible = False
        p.ygrid.visible = False
    else:
        p.yaxis.major_label_standoff = 13
        p.yaxis.ticker = FixedTicker(ticks=yticks)
        p.yaxis.major_label_overrides = {t: l for t, l in zip(yticks, ylabels)}
        p.ygrid.ticker = FixedTicker(ticks=yticks)
        p.ygrid.grid_line_color = "white"
        p.ygrid.grid_line_width = 1.3


def add_titles(p, lines):
    for i, txt in enumerate(reversed(lines)):
        p.add_layout(Title(text=txt, align="center", text_font=FONT, text_font_size="14.5px",
                           text_font_style="normal", text_color=TEXT,
                           standoff=7 if i == 0 else 0, offset=0), "above")


def kde_fig(curves, xticks, xlabels, lines, top, height, bottom):
    xs = [x for c in curves for x, _ in c]
    ys = [y for c in curves for _, y in c]
    lo, hi = min(xs), max(xs)
    pad = 0.05 * (hi - lo)
    ymax = max(ys)
    p = figure(width=600, height=height, title=None, output_backend="svg", toolbar_location=None,
               x_range=Range1d(lo - pad, hi + pad), y_range=Range1d(-0.05 * ymax, 1.05 * ymax),
               min_border_left=32, min_border_right=33, min_border_top=top, min_border_bottom=bottom)
    style(p, xticks, xlabels)
    for c, col in zip(curves, COLORS):
        p.line([x for x, _ in c], [y for _, y in c], line_color=col, line_width=1.9,
               line_join="round")
    add_titles(p, lines)
    return p


def trace_fig(chains, yticks, lines, top, height, bottom):
    vals = [v for c in chains for v in c]
    lo, hi = min(vals), max(vals)
    pad = 0.05 * (hi - lo)
    p = figure(width=592, height=height, title=None, output_backend="svg", toolbar_location=None,
               x_range=Range1d(0, N_DRAWS - 1), y_range=Range1d(lo - pad, hi + pad),
               min_border_left=35, min_border_right=7, min_border_top=top, min_border_bottom=bottom)
    style(p, TRACE_X_TICKS, TRACE_X_LABELS, yticks, [str(t) for t in yticks])
    for c, col in zip(chains, COLORS):
        draws = np.arange(len(c)) * DRAW_STEP
        p.line(draws, c, line_color=col, line_width=1.5, line_alpha=0.42)
    add_titles(p, lines)
    return p


KDES = [
    ([B0_KDE_C0, B0_KDE_C1, B0_KDE_C2, B0_KDE_C3], B0_KDE_TICKS, B0_KDE_LABELS),
    ([B1_KDE_C0, B1_KDE_C1, B1_KDE_C2, B1_KDE_C3], B1_KDE_TICKS, B1_KDE_LABELS),
    ([B2_KDE_C0, B2_KDE_C1, B2_KDE_C2, B2_KDE_C3], B2_KDE_TICKS, B2_KDE_LABELS),
    ([B3_KDE_C0, B3_KDE_C1, B3_KDE_C2, B3_KDE_C3], B3_KDE_TICKS, B3_KDE_LABELS),
    ([SIG_KDE_C0, SIG_KDE_C1, SIG_KDE_C2, SIG_KDE_C3], SIG_KDE_TICKS, SIG_KDE_LABELS),
]
TRACES = [
    ([merge(B0_TR_C0_A, B0_TR_C0_B), merge(B0_TR_C1_A, B0_TR_C1_B),
      merge(B0_TR_C2_A, B0_TR_C2_B), merge(B0_TR_C3_A, B0_TR_C3_B)], B0_TR_TICKS),
    ([merge(B1_TR_C0_A, B1_TR_C0_B), merge(B1_TR_C1_A, B1_TR_C1_B),
      merge(B1_TR_C2_A, B1_TR_C2_B), merge(B1_TR_C3_A, B1_TR_C3_B)], B1_TR_TICKS),
    ([merge(B2_TR_C0_A, B2_TR_C0_B), merge(B2_TR_C1_A, B2_TR_C1_B),
      merge(B2_TR_C2_A, B2_TR_C2_B), merge(B2_TR_C3_A, B2_TR_C3_B)], B2_TR_TICKS),
    ([merge(B3_TR_C0_A, B3_TR_C0_B), merge(B3_TR_C1_A, B3_TR_C1_B),
      merge(B3_TR_C2_A, B3_TR_C2_B), merge(B3_TR_C3_A, B3_TR_C3_B)], B3_TR_TICKS),
    ([merge(SIG_TR_C0_A, SIG_TR_C0_B), merge(SIG_TR_C1_A, SIG_TR_C1_B),
      merge(SIG_TR_C2_A, SIG_TR_C2_B), merge(SIG_TR_C3_A, SIG_TR_C3_B)], SIG_TR_TICKS),
]

ROW_DIMS = [(48, 205, 40), (41, 196, 41), (41, 196, 41), (41, 196, 41), (45, 189, 30)]

rows = []
for i in range(5):
    top, height, bottom = ROW_DIMS[i]
    curves, xt, xl = KDES[i]
    chains, yt = TRACES[i]
    left = kde_fig(curves, xt, xl, TITLES[i], top, height, bottom)
    right = trace_fig(chains, yt, TITLES[i], top, height, bottom)
    rows.append(row(left, right, spacing=0))

layout = column(*rows, spacing=0)

with open("out.html", "w") as f:
    f.write(file_html(layout, INLINE))
